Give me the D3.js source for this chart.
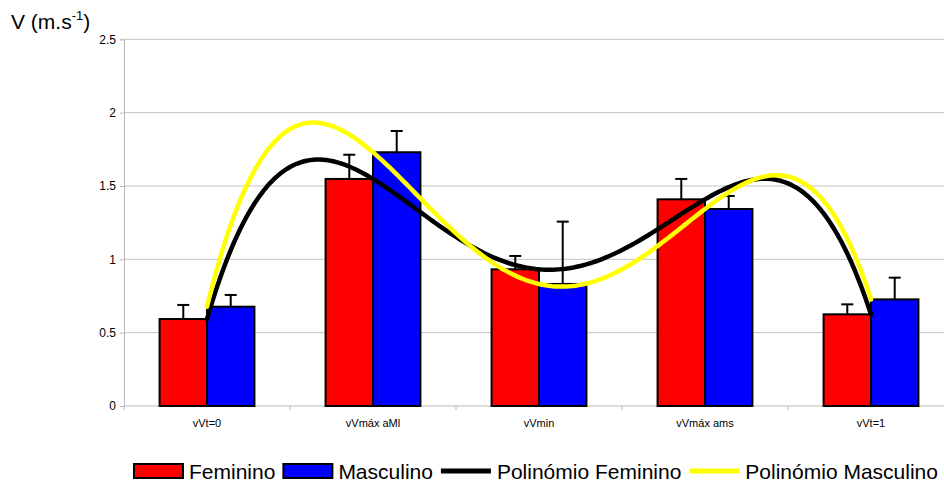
<!DOCTYPE html>
<html>
<head>
<meta charset="utf-8">
<script src="https://cdn.jsdelivr.net/npm/d3@7"></script>
<style>
  html, body { margin: 0; padding: 0; background: #fff; }
  svg { display: block; font-family: "Liberation Sans", Arial, sans-serif; }
</style>
</head>
<body>
<svg id="chart" width="944" height="484"></svg>
<script>
// Categories of the velocity measurements
const categories = ["vVt=0", "vVmáx aMl", "vVmin", "vVmáx ams", "vVt=1"];
// Mean velocity per group (m/s)
const feminino = [0.593, 1.548, 0.932, 1.409, 0.625];
const masculino = [0.677, 1.730, 0.832, 1.343, 0.727];
// Standard deviation (upper error bar) per group
const femininoErr = [0.096, 0.165, 0.091, 0.139, 0.068];
const masculinoErr = [0.080, 0.145, 0.425, 0.089, 0.148];
// Y axis ticks
const yTicks = [0, 0.5, 1, 1.5, 2, 2.5];
const seriesNames = ["Feminino", "Masculino"];
const trendNames = ["Polinómio Feminino", "Polinómio Masculino"];

const colors = { Feminino: "#ff0000", Masculino: "#0000ff" };
const trendColors = ["#000000", "#ffff00"];

const svg = d3.select("#chart");
const plotLeft = 124, plotRight = 954, plotTop = 39.3, plotBottom = 406;

const x = d3.scaleBand().domain(categories).range([plotLeft, plotRight]).padding(0);
const x1 = d3.scaleBand().domain(seriesNames).range([0, x.bandwidth()])
  .paddingInner(0).paddingOuter(0.75);
const y = d3.scaleLinear().domain([0, 2.5]).range([plotBottom, plotTop]);

const rows = categories.map((c, i) => ({
  cat: c,
  values: [
    { s: "Feminino", v: feminino[i], e: femininoErr[i] },
    { s: "Masculino", v: masculino[i], e: masculinoErr[i] }
  ]
}));

// Gridlines
svg.append("g").selectAll("line").data(yTicks.filter(t => t > 0)).join("line")
  .attr("x1", plotLeft).attr("x2", 944)
  .attr("y1", d => y(d)).attr("y2", d => y(d))
  .attr("stroke", "#c4c4c4").attr("stroke-width", 1);

// Y axis
const yAxis = d3.axisLeft(y).tickValues(yTicks).tickSize(4).tickPadding(4)
  .tickFormat(d => String(d));
const gy = svg.append("g").attr("transform", `translate(${plotLeft},0)`).call(yAxis);
gy.select(".domain").attr("stroke", "#b8b8b8");
gy.selectAll(".tick line").attr("stroke", "#b8b8b8");
gy.selectAll(".tick text").attr("font-size", 12).attr("fill", "#000")
  .attr("font-family", "Liberation Sans, Arial, sans-serif");

// X axis baseline and category separators
svg.append("line").attr("x1", plotLeft).attr("x2", 944)
  .attr("y1", plotBottom).attr("y2", plotBottom).attr("stroke", "#b8b8b8");
svg.append("g").selectAll("line").data(categories).join("line")
  .attr("x1", d => x(d)).attr("x2", d => x(d))
  .attr("y1", plotBottom).attr("y2", plotBottom + 4).attr("stroke", "#b8b8b8");
svg.append("g").selectAll("text").data(categories).join("text")
  .attr("x", d => x(d) + x.bandwidth() / 2).attr("y", plotBottom + 21)
  .attr("text-anchor", "middle").attr("font-size", 11).text(d => d);

// Bars
const groups = svg.append("g").selectAll("g").data(rows).join("g")
  .attr("transform", d => `translate(${x(d.cat)},0)`);
groups.selectAll("rect").data(d => d.values).join("rect")
  .attr("x", d => x1(d.s)).attr("width", x1.bandwidth())
  .attr("y", d => y(d.v)).attr("height", d => y(0) - y(d.v))
  .attr("fill", d => colors[d.s]).attr("stroke", "#000").attr("stroke-width", 2);

// Error bars (upper only)
const errs = groups.selectAll("g.err").data(d => d.values).join("g").attr("class", "err");
errs.append("line")
  .attr("x1", d => x1(d.s) + x1.bandwidth() / 2).attr("x2", d => x1(d.s) + x1.bandwidth() / 2)
  .attr("y1", d => y(d.v)).attr("y2", d => y(d.v + d.e))
  .attr("stroke", "#000").attr("stroke-width", 2);
errs.append("line")
  .attr("x1", d => x1(d.s) + x1.bandwidth() / 2 - 6).attr("x2", d => x1(d.s) + x1.bandwidth() / 2 + 6)
  .attr("y1", d => y(d.v + d.e)).attr("y2", d => y(d.v + d.e))
  .attr("stroke", "#000").attr("stroke-width", 2);

// Least-squares polynomial trendline (order 4)
function polyfit(xs, ys, order) {
  const n = order + 1;
  const A = Array.from({ length: n }, () => new Array(n + 1).fill(0));
  for (let r = 0; r < n; r++) {
    for (let c = 0; c < n; c++) A[r][c] = d3.sum(xs, xv => Math.pow(xv, r + c));
    A[r][n] = d3.sum(xs, (xv, i) => ys[i] * Math.pow(xv, r));
  }
  for (let i = 0; i < n; i++) {
    let p = i;
    for (let k = i + 1; k < n; k++) if (Math.abs(A[k][i]) > Math.abs(A[p][i])) p = k;
    [A[i], A[p]] = [A[p], A[i]];
    for (let k = i + 1; k < n; k++) {
      const f = A[k][i] / A[i][i];
      for (let j = i; j <= n; j++) A[k][j] -= f * A[i][j];
    }
  }
  const coef = new Array(n).fill(0);
  for (let i = n - 1; i >= 0; i--) {
    let s = A[i][n];
    for (let j = i + 1; j < n; j++) s -= A[i][j] * coef[j];
    coef[i] = s / A[i][i];
  }
  return t => coef.reduce((acc, c, k) => acc + c * Math.pow(t, k), 0);
}

const idx = categories.map((_, i) => i + 1);
const xt = d3.scaleLinear().domain([1, categories.length])
  .range([x(categories[0]) + x.bandwidth() / 2, x(categories[categories.length - 1]) + x.bandwidth() / 2]);
const samples = d3.range(0, 201).map(k => 1 + k * (categories.length - 1) / 200);
const line = d3.line().x(d => xt(d[0])).y(d => y(d[1])).curve(d3.curveLinear);

[feminino, masculino].forEach((vals, si) => {
  const f = polyfit(idx, vals, 4);
  svg.append("path").datum(samples.map(t => [t, f(t)]))
    .attr("d", line).attr("fill", "none")
    .attr("stroke", trendColors[si]).attr("stroke-width", 4.5)
    .attr("stroke-linejoin", "round").attr("stroke-linecap", "round");
});

// Title
const title = svg.append("text").attr("x", 11).attr("y", 29).attr("font-size", 21);
title.append("tspan").text("V (m.s");
title.append("tspan").attr("font-size", 13).attr("dy", -9).text("-1");
title.append("tspan").attr("dy", 9).text(")");

// Legend
const leg = svg.append("g").attr("font-size", 21);
let lx = 134;
const ly = 471;
function legText(t) {
  const el = leg.append("text").attr("x", lx).attr("y", ly + 7.5).text(t);
  lx += el.node().getComputedTextLength() + 8;
}
seriesNames.forEach(s => {
  leg.append("rect").attr("x", lx).attr("y", ly - 7).attr("width", 49).attr("height", 14)
    .attr("fill", colors[s]).attr("stroke", "#000").attr("stroke-width", 2);
  lx += 55;
  legText(s);
});
trendNames.forEach((s, i) => {
  leg.append("line").attr("x1", lx).attr("x2", lx + 50).attr("y1", ly).attr("y2", ly)
    .attr("stroke", trendColors[i]).attr("stroke-width", 5);
  lx += 56;
  legText(s);
});
</script>
</body>
</html>
